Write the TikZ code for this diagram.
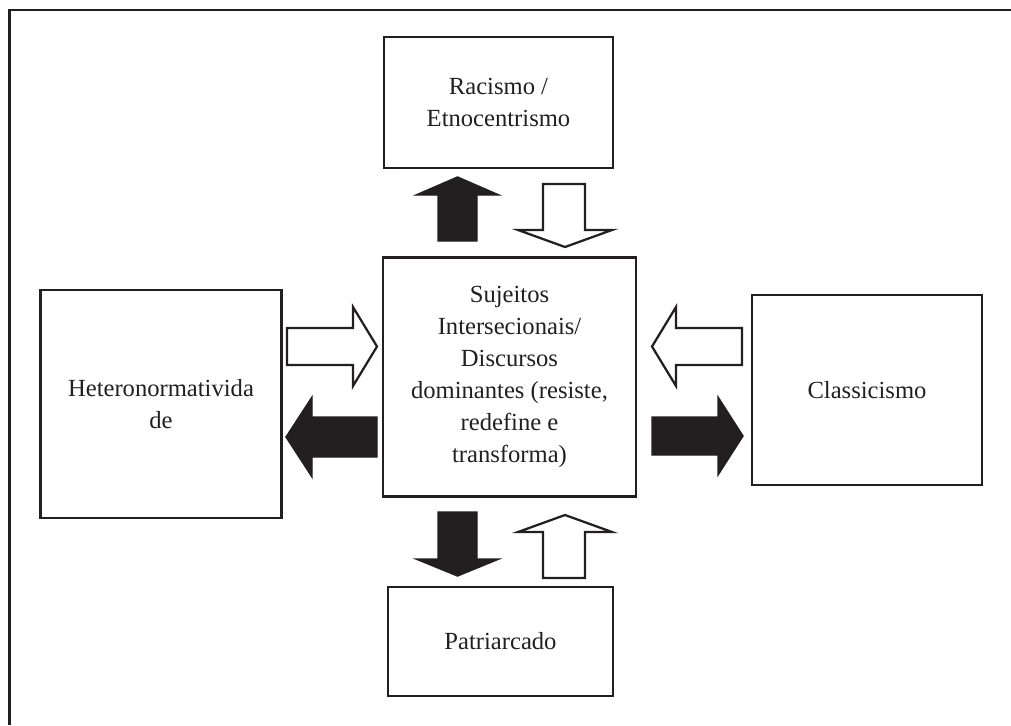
\documentclass[tikz,border=0pt]{standalone}
\usepackage{fontspec}
\setmainfont{Liberation Serif}
\definecolor{ink}{RGB}{35,31,32}
\tikzset{
  box/.style={draw=ink, line width=1.6pt, text=ink, align=center, inner sep=4pt,
    font=\fontsize{17.5}{22.7}\selectfont},
  blackarrow/.style={draw=ink, fill=ink, line width=1pt, line join=miter},
  whitearrow/.style={draw=ink, fill=white, line width=1.6pt, line join=miter}
}
\begin{document}
\begin{tikzpicture}[x=0.025cm, y=-0.025cm]
\useasboundingbox (0,0) rectangle (1011,725);

% frame
\draw[ink, line width=2pt] (9.5,725) -- (9.5,10) -- (1011,10);

% boxes
\node[box, minimum width=5.725cm, minimum height=3.275cm] (racismo) at (498.5,102.5) {Racismo /\\Etnocentrismo};
\node[box, minimum width=6.325cm, minimum height=5.975cm] (sujeitos) at (509.5,377) {Sujeitos\\Intersecionais/\\Discursos\\dominantes (resiste,\\redefine e\\transforma)};
\node[box, minimum width=6.025cm, minimum height=5.7cm] (hetero) at (161,404) {Heteronormativida\\de};
\node[box, minimum width=5.75cm, minimum height=4.75cm] (classic) at (867,390) {Classicismo};
\node[box, minimum width=5.625cm, minimum height=2.725cm] (patriarcado) at (500.5,641.5) {Patriarcado};

% top arrows
\draw[blackarrow] (438,241) -- (438,195) -- (416,195) -- (457.5,177) -- (499,195) -- (477,195) -- (477,241) -- cycle;
\draw[whitearrow] (543,184) -- (585,184) -- (585,230) -- (612,230) -- (565,247) -- (518,230) -- (543,230) -- cycle;

% bottom arrows
\draw[blackarrow] (438,512) -- (477,512) -- (477,559) -- (499,559) -- (457.5,576) -- (416,559) -- (438,559) -- cycle;
\draw[whitearrow] (543,578) -- (543,532) -- (518,532) -- (565,515) -- (612,532) -- (585,532) -- (585,578) -- cycle;

% left arrows
\draw[whitearrow] (287,328) -- (353,328) -- (353,307) -- (377,346.5) -- (353,386) -- (353,365) -- (287,365) -- cycle;
\draw[blackarrow] (377,417) -- (312,417) -- (312,397) -- (286,437) -- (312,477) -- (312,457) -- (377,457) -- cycle;

% right arrows
\draw[whitearrow] (742,328) -- (676,328) -- (676,307) -- (652,346.5) -- (676,386) -- (676,365) -- (742,365) -- cycle;
\draw[blackarrow] (652,417) -- (718,417) -- (718,397) -- (743,436) -- (718,475) -- (718,455) -- (652,455) -- cycle;
\end{tikzpicture}
\end{document}
